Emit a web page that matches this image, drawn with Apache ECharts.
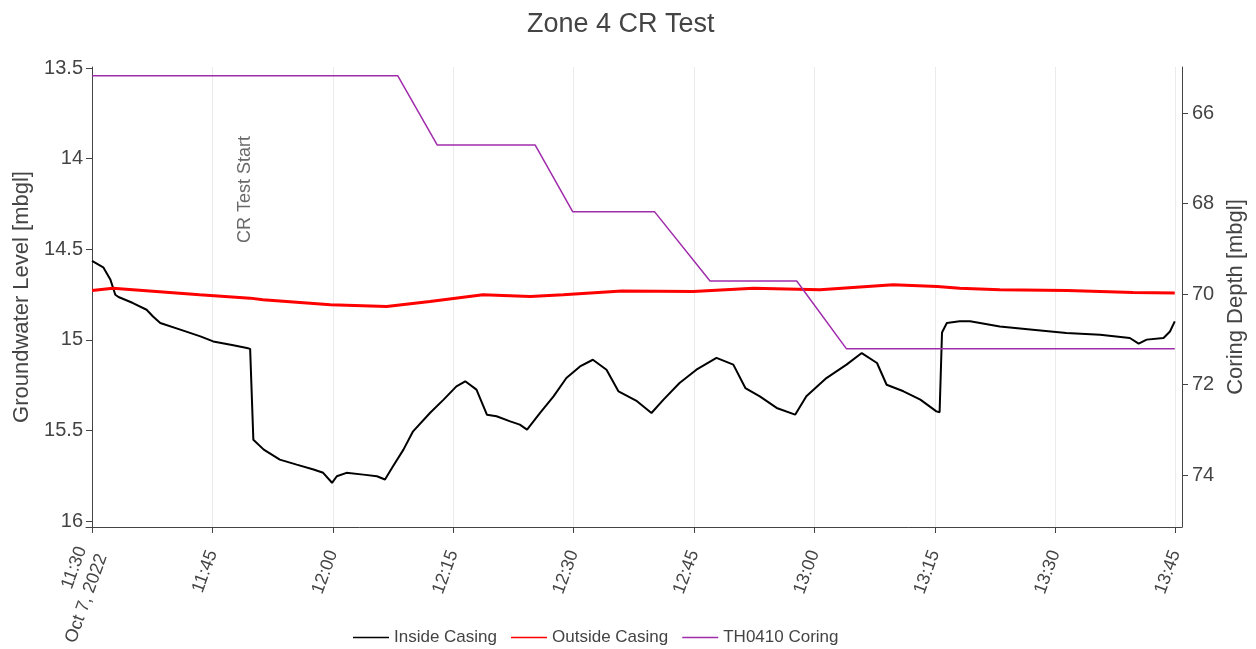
<!DOCTYPE html>
<html><head><meta charset="utf-8">
<script src="https://cdn.jsdelivr.net/npm/echarts@6/dist/echarts.min.js"></script>
<style>html,body{margin:0;padding:0;background:#fff}#c{width:1256px;height:649px}</style>
</head><body><div id="c"></div>
<script>
// minutes after 11:30 on Oct 7, 2022
const tickMinutes = [0, 15, 30, 45, 60, 75, 90, 105, 120, 135];
const tickLabels = ['11:30\nOct 7, 2022', '11:45', '12:00', '12:15', '12:30', '12:45', '13:00', '13:15', '13:30', '13:45'];
const levelTicks = [13.5, 14, 14.5, 15, 15.5, 16];
const depthTicks = [66, 68, 70, 72, 74];

const insideMinutes = [0, 1.4, 2.3, 2.9, 3.3, 5.1, 6.8, 7.6, 8.5, 11.0, 13.5, 15.1, 17.6, 19.3, 19.7, 20.1, 21.4, 23.4, 25.5, 27.6, 28.8, 29.9, 30.5, 31.7, 33.8, 35.5, 36.5, 37.5, 38.8, 40.0, 42.1, 43.8, 45.4, 46.5, 47.9, 49.2, 50.4, 52.1, 53.3, 54.2, 55.8, 57.5, 59.1, 60.8, 62.4, 64.1, 65.6, 67.9, 69.7, 71.2, 73.2, 75.3, 77.8, 79.9, 81.4, 83.2, 85.3, 87.6, 89.0, 91.5, 94.0, 95.9, 97.8, 99.0, 101.1, 103.2, 105.2, 105.6, 105.9, 106.5, 108.1, 109.4, 113.1, 117.2, 121.4, 125.6, 129.3, 130.4, 131.4, 133.5, 134.3, 134.9];
const insideLevel = [14.565, 14.60, 14.669, 14.751, 14.764, 14.797, 14.834, 14.871, 14.907, 14.944, 14.981, 15.009, 15.030, 15.045, 15.050, 15.551, 15.606, 15.661, 15.689, 15.716, 15.734, 15.789, 15.753, 15.734, 15.744, 15.753, 15.771, 15.698, 15.606, 15.505, 15.404, 15.330, 15.257, 15.229, 15.275, 15.413, 15.422, 15.450, 15.468, 15.496, 15.404, 15.312, 15.211, 15.147, 15.110, 15.165, 15.285, 15.339, 15.404, 15.330, 15.238, 15.165, 15.100, 15.137, 15.266, 15.312, 15.376, 15.413, 15.312, 15.211, 15.137, 15.073, 15.128, 15.248, 15.284, 15.330, 15.395, 15.400, 14.960, 14.907, 14.898, 14.898, 14.926, 14.944, 14.963, 14.972, 14.990, 15.021, 14.999, 14.990, 14.954, 14.898];

const outsideMinutes = [0, 2.6, 13.4, 19.7, 21.3, 29.7, 36.7, 42.1, 48.7, 54.6, 58.7, 66.0, 74.9, 82.4, 90.7, 99.8, 105.3, 108.1, 113.1, 121.5, 129.7, 134.9];
const outsideLevel = [14.728, 14.715, 14.751, 14.770, 14.779, 14.807, 14.816, 14.788, 14.751, 14.761, 14.751, 14.730, 14.733, 14.715, 14.724, 14.696, 14.706, 14.715, 14.724, 14.728, 14.739, 14.742];

const coringMinutes = [0, 38.1, 43.0, 55.2, 59.9, 70.1, 77.0, 87.8, 94.0, 134.9];
const coringDepth = [65.17, 65.17, 66.70, 66.70, 68.18, 68.18, 69.71, 69.71, 71.21, 71.21];

const annotationText = 'CR Test Start';
const annotationMinute = 19.1;
const annotationLevel = 14.170;

const pairs = (xs, ys) => xs.map((x, i) => [x, ys[i]]);
const FONT = 'Liberation Sans, Arial, sans-serif';
const TXT = '#444';
const LINE_ICON = 'path://M0,0L36,0L36,1.5L0,1.5Z';

const chart = echarts.init(document.getElementById('c'));
chart.setOption({
  animation: false,
  backgroundColor: '#fff',
  textStyle: { fontFamily: FONT },
  title: {
    text: 'Zone 4 CR Test', left: 522, top: 6,
    textStyle: { fontSize: 27, fontWeight: 'normal', color: TXT, fontFamily: FONT }
  },
  grid: { left: 86, right: 74, top: 67, bottom: 122, containLabel: false, outerBoundsMode: 'none' },
  legend: {
    data: [
      { name: 'Inside Casing', icon: LINE_ICON },
      { name: 'Outside Casing', icon: LINE_ICON },
      { name: 'TH0410 Coring', icon: LINE_ICON }
    ],
    left: 348, top: 624, itemWidth: 36, itemHeight: 1.5, itemGap: 14,
    textStyle: { fontSize: 17, color: TXT, fontFamily: FONT }
  },
  xAxis: {
    type: 'value', min: -0.75, max: 135.8,
    axisLine: { show: true, lineStyle: { color: '#444', width: 1 }, onZero: false },
    axisTick: { show: true, length: 6, lineStyle: { color: '#444' }, customValues: tickMinutes },
    axisLabel: {
      customValues: tickMinutes, rotate: 70, margin: 24, fontSize: 18, color: TXT, fontFamily: FONT, lineHeight: 22,
      padding: [10, 0, 0, 0],
      formatter: v => { const i = tickMinutes.indexOf(v); return i >= 0 ? tickLabels[i] : ''; }
    },
    splitLine: { show: true, lineStyle: { color: '#ebebeb', width: 1 } }
  },
  yAxis: [{
    type: 'value', inverse: true, min: 13.4945, max: 16.033,
    name: 'Groundwater Level [mbgl]', nameLocation: 'middle', nameGap: 41,
    nameTextStyle: { fontSize: 22, color: TXT, fontFamily: FONT },
    axisLine: { show: true, lineStyle: { color: '#444' } },
    axisTick: { show: true, length: 6, lineStyle: { color: '#444' }, customValues: levelTicks },
    axisLabel: { customValues: levelTicks, fontSize: 20, color: TXT, margin: 3, fontFamily: FONT },
    splitLine: { show: false }
  }, {
    type: 'value', inverse: true, min: 64.976, max: 75.15, position: 'right',
    name: 'Coring Depth [mbgl]', nameLocation: 'middle', nameGap: 42,
    nameTextStyle: { fontSize: 22, color: TXT, fontFamily: FONT },
    axisLine: { show: true, lineStyle: { color: '#444' } },
    axisTick: { show: true, length: 6, lineStyle: { color: '#444' }, customValues: depthTicks },
    axisLabel: { customValues: depthTicks, fontSize: 20, color: TXT, margin: 10, fontFamily: FONT },
    splitLine: { show: false }
  }],
  series: [{
    name: 'Inside Casing', type: 'line', yAxisIndex: 0, symbol: 'none', silent: true,
    data: pairs(insideMinutes, insideLevel),
    lineStyle: { color: '#000', width: 2 }, itemStyle: { color: '#000' }
  }, {
    name: 'Outside Casing', type: 'line', yAxisIndex: 0, symbol: 'none', silent: true,
    data: pairs(outsideMinutes, outsideLevel),
    lineStyle: { color: '#ff0000', width: 3 }, itemStyle: { color: '#ff0000' }
  }, {
    name: 'TH0410 Coring', type: 'line', yAxisIndex: 1, symbol: 'none', silent: true,
    data: pairs(coringMinutes, coringDepth),
    lineStyle: { color: '#a02cac', width: 1.5 }, itemStyle: { color: '#a02cac' }
  }, {
    name: 'annotation', type: 'scatter', yAxisIndex: 0, symbolSize: 1, silent: true,
    itemStyle: { color: 'rgba(0,0,0,0)' },
    data: [[annotationMinute, annotationLevel]],
    label: { show: true, position: 'inside', rotate: 90, formatter: annotationText, fontSize: 18, color: TXT, fontFamily: FONT }
  }]
});
</script></body></html>
